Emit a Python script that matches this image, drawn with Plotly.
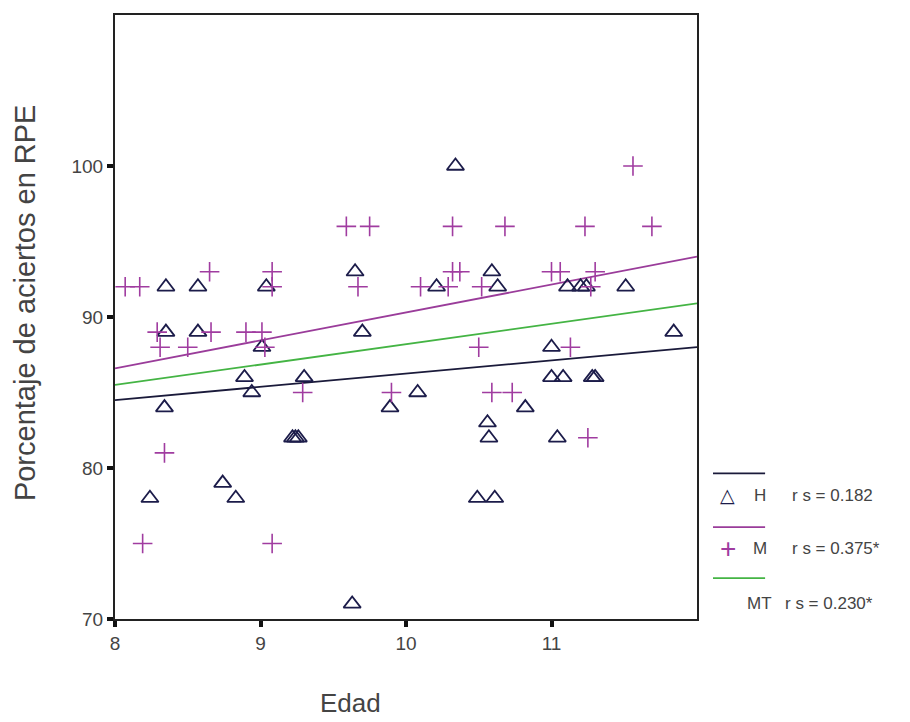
import plotly.graph_objects as go

# ---------------- data ----------------
h_edad = [8.24, 8.35, 8.35, 8.34, 8.57, 8.57, 8.74, 8.83, 8.89, 8.94,
          9.01, 9.04, 9.22, 9.24, 9.26, 9.30, 9.63, 9.65, 9.70, 9.89,
          10.08, 10.21, 10.34, 10.49, 10.61, 10.56, 10.57, 10.59, 10.63, 10.82,
          11.00, 11.00, 11.08, 11.04, 11.11, 11.20, 11.24, 11.28, 11.30, 11.51,
          11.84]
h_pct = [78, 92, 89, 84, 92, 89, 79, 78, 86, 85,
         88, 92, 82, 82, 82, 86, 71, 93, 89, 84,
         85, 92, 100, 78, 78, 83, 82, 93, 92, 84,
         88, 86, 86, 82, 92, 92, 92, 86, 86, 92,
         89]

m_edad = [8.07, 8.17, 8.65, 9.08, 9.08, 9.59, 9.75, 9.67, 8.29, 8.66,
          8.90, 9.01, 8.31, 8.50, 9.03, 8.34, 8.19, 9.08, 9.29, 9.90,
          10.10, 10.29, 10.32, 10.37, 10.32, 10.68, 10.52, 11.00, 11.06, 11.27,
          11.30, 11.23, 11.69, 11.56, 10.50, 11.13, 10.59, 10.73, 11.25]
m_pct = [92, 92, 93, 93, 92, 96, 96, 92, 89, 89,
         89, 89, 88, 88, 88, 81, 75, 75, 85, 85,
         92, 92, 93, 93, 96, 96, 92, 93, 93, 92,
         93, 96, 96, 100, 88, 88, 85, 85, 82]

fit_x = [8, 12]
h_fit = [84.5, 88.0]
m_fit = [86.6, 94.0]
mt_fit = [85.5, 90.9]

x_ticks = [8, 9, 10, 11]
y_ticks = [70, 80, 90, 100]

legend_groups = ["H", "M", "MT"]
legend_rs = ["r s = 0.182", "r s = 0.375*", "r s = 0.230*"]

# ---------------- styles ----------------
c_h = "#1c1c4a"
c_m = "#a03ca0"
c_mt = "#44b444"
c_hline = "#1a1a3a"
c_mline = "#9a3c9a"
font_fam = "Liberation Sans, Arial, sans-serif"
txt_col = "#444444"

fig = go.Figure()

fig.add_trace(go.Scatter(x=fit_x, y=h_fit, mode="lines",
                         line=dict(color=c_hline, width=1.8), showlegend=False))
fig.add_trace(go.Scatter(x=fit_x, y=mt_fit, mode="lines",
                         line=dict(color=c_mt, width=1.8), showlegend=False))
fig.add_trace(go.Scatter(x=fit_x, y=m_fit, mode="lines",
                         line=dict(color=c_mline, width=1.8), showlegend=False))

fig.add_trace(go.Scatter(x=h_edad, y=h_pct, mode="markers",
                         marker=dict(symbol="triangle-up-open", size=15, color=c_h,
                                     line=dict(width=1.8, color=c_h)),
                         showlegend=False))
fig.add_trace(go.Scatter(x=m_edad, y=m_pct, mode="markers",
                         marker=dict(symbol="cross-thin-open", size=14, color=c_m,
                                     line=dict(width=1.6, color=c_m)),
                         showlegend=False))

axis_common = dict(showline=True, linecolor="#222222", linewidth=2, mirror=True,
                   ticks="outside", ticklen=6, tickwidth=4, tickcolor="#111111",
                   showgrid=False, zeroline=False,
                   tickfont=dict(family=font_fam, size=19, color=txt_col))

fig.update_xaxes(range=[8, 12], tickvals=x_ticks, **axis_common)
fig.update_yaxes(range=[70, 110], tickvals=y_ticks, **axis_common)

# custom legend (lines above each entry)
line_y = [0.241, 0.152, 0.0677]
text_y = [0.2046, 0.117, 0.0264]
line_cols = [c_hline, c_mline, c_mt]
sym_txt = ["\u25b3", "+", ""]
sym_size = [19, 28, 20]
sym_col = [c_h, c_m, c_h]
sym_font = ["DejaVu Sans", font_fam, font_fam]
shapes = []
annotations = []
for i in range(3):
    shapes.append(dict(type="line", xref="paper", yref="paper",
                       x0=1.0275, x1=1.117, y0=line_y[i], y1=line_y[i],
                       line=dict(color=line_cols[i], width=1.8)))
    if sym_txt[i]:
        annotations.append(dict(xref="paper", yref="paper", x=1.0275 + 0.0255, y=text_y[i],
                                text=sym_txt[i], showarrow=False, xanchor="center",
                                yanchor="middle",
                                font=dict(family=sym_font[i], size=sym_size[i], color=sym_col[i])))
    annotations.append(dict(xref="paper", yref="paper", x=1.1075, y=text_y[i],
                            text=legend_groups[i], showarrow=False, xanchor="center",
                            yanchor="middle",
                            font=dict(family=font_fam, size=17, color=txt_col)))
    annotations.append(dict(xref="paper", yref="paper",
                            x=1.159 if i < 2 else 1.148, y=text_y[i],
                            text=legend_rs[i], showarrow=False, xanchor="left",
                            yanchor="middle",
                            font=dict(family=font_fam, size=17, color=txt_col)))

# axis titles
annotations.append(dict(xref="paper", yref="paper", x=0, y=0.523, xshift=-90,
                        text="Porcentaje de aciertos en RPE", textangle=-90,
                        showarrow=False, xanchor="center", yanchor="middle",
                        font=dict(family=font_fam, size=29, color=txt_col)))
annotations.append(dict(xref="paper", yref="paper", x=0.404, y=0, yshift=-101,
                        text="Edad", showarrow=False, xanchor="center", yanchor="bottom",
                        font=dict(family=font_fam, size=26, color=txt_col)))

# page body adds an 8px offset; size the figure so the plot lands where the reference has it
fig.update_layout(width=902, height=714,
                  margin=dict(l=107, r=213, t=5, b=103),
                  plot_bgcolor="white", paper_bgcolor="white",
                  shapes=shapes, annotations=annotations, showlegend=False)

fig.write_html("out.html")
